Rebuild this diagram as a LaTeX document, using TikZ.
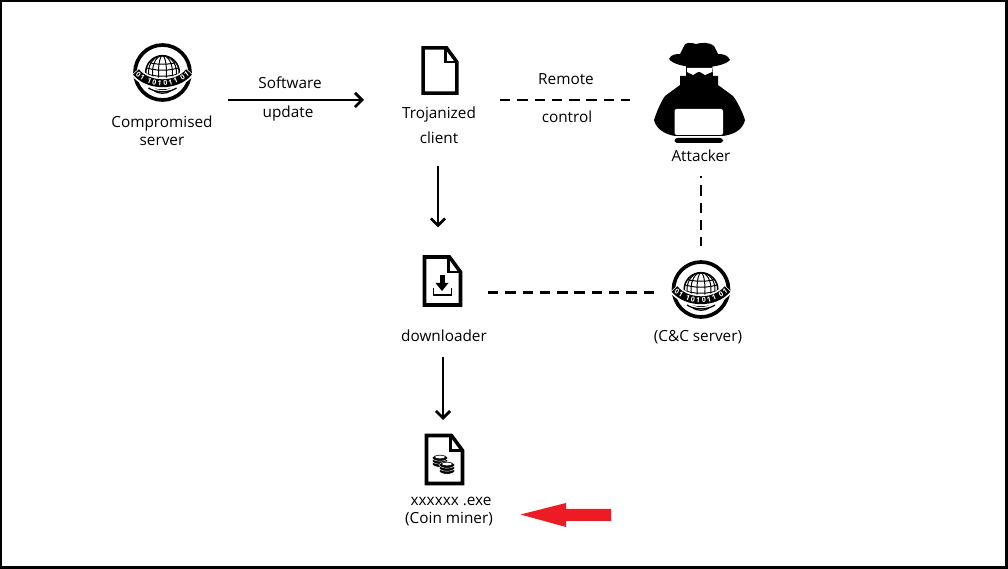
\documentclass[tikz,border=0pt]{standalone}
\usepackage{fontspec}
\setmainfont{Open Sans}
\usetikzlibrary{positioning,arrows.meta}
\definecolor{markred}{HTML}{ED1C24}
\tikzset{
    hub/.style 2 args={minimum width=#1*0.025cm,minimum height=#2*0.025cm,inner sep=0pt,outer sep=0pt},
    caption/.style={align=center,inner sep=0pt,font=\fontsize{10.9}{12.8}\selectfont},
    flow/.style={line width=1.5pt,-{Straight Barb[length=5pt,width=10pt,line width=2pt]}},
    remote/.style={line width=1.5pt,dash pattern=on 7.4pt off 4.9pt},
    globeicon/.pic={
        \draw[line width=2.6pt] (0,0) circle (27.5);
        \begin{scope}
            \clip (0,0) circle (17);
            \foreach \rx in {4,10,14} {
                \draw[line width=.7pt] (0,0) ellipse ({\rx} and 17);
            }
            \foreach \sy in {-12,-6,0} {
                \draw[line width=.7pt] (-20,\sy) .. controls (-8,\sy+5) and (8,\sy+5) .. (20,\sy);
            }
        \end{scope}
        \draw[line width=1.1pt] (0,0) circle (16.8);
        \draw[white,line width=8pt] (-27,-1) .. controls (-14,15) and (14,15) .. (27,-1);
        \draw[line width=5.6pt] (-26.5,-.5) .. controls (-14,14.5) and (14,14.5) .. (26.5,-.5);
        \draw[line width=.9pt] (-14,15.5) .. controls (-7,20.5) and (7,20.5) .. (14,15.5);
        \draw[line width=.9pt] (-8,18.5) .. controls (-4,21.5) and (4,21.5) .. (8,18.5);
        \foreach \dx/\ch in {-24/0,-20/1,-13/1,-8/0,-3/1,3/0,8/1,13/1,20/0,24/1} {
            \pgfmathsetmacro\dy{10.7-11*(\dx/27)*(\dx/27)}
            \pgfmathsetmacro\da{atan(.03*\dx)}
            \node[text=white,inner sep=0pt,rotate=\da,font=\fontsize{5}{5}\selectfont\bfseries] at (\dx,\dy) {\ch};
        }
    },
    fileicon/.pic={
        \draw[line width=2.5pt,fill=white,line join=miter] (-18,-24) -- (7,-24) -- (18,-9) -- (18,24) -- (-18,24) -- cycle;
        \draw[line width=1.8pt] (6,-24) -- (6,-9) -- (18,-9);
    },
    coinstack/.pic={
        \foreach \cy in {6,3,0} {
            \draw[fill=black,draw=white,line width=.3pt] (0,\cy) ellipse (7.5 and 3.2);
        }
        \draw[fill=white,draw=black,line width=.3pt] (0,-1) ellipse (5.5 and 1.8);
    },
    attackericon/.pic={
        \fill (-45,27) .. controls (-40,12) and (-36,6) .. (-34,3) -- (-19,-8) -- (-19,-17) -- (-13,-17) -- (-13,-30)
            -- (13,-30) -- (14,-17) -- (19,-17) -- (19,-8) -- (34,3) .. controls (38,8) and (43,18) .. (46,27)
            .. controls (44,35) and (38,41) .. (24,43) -- (-24,43) .. controls (-36,41) and (-43,35) .. (-45,27) -- cycle;
        \fill (-30,-34) .. controls (-28,-39) and (-22,-39) .. (-19,-39) -- (-15,-47) .. controls (-14,-51) and (-8,-50.5) .. (-3,-49)
            .. controls (2,-50.5) and (11,-51) .. (15,-47) -- (19,-39) .. controls (24,-39) and (29,-38) .. (31,-33)
            .. controls (22,-23) and (-22,-23) .. (-30,-34) -- cycle;
        \fill[white] (-12,-25) -- (13,-25) -- (13,-21) -- (6,-18) -- (1,-21) -- (-1,-21) -- (-6,-18) -- (-12,-21) -- cycle;
        \fill[white,rounded corners=1.5pt] (-24.5,16) rectangle (24,42);
        \fill[rounded corners=2pt] (-24.5,45) rectangle (24,50);
    }
}
\begin{document}
\begin{tikzpicture}[x=0.025cm,y=-0.025cm]
    \useasboundingbox (0,0) rectangle (1008,569);
    \fill[white] (0,0) rectangle (1008,569);
    \draw[line width=2.1pt] (1,1) rectangle (1006.5,567.5);

    \node[hub={132}{120}] (server) at (162,100) {};
    \node[hub={136}{132}] (client) at (432,100) {};
    \node[hub={142}{152}] (attacker) at (701,100) {};
    \node[hub={100}{130}] (downloader) at (438,292.5) {};
    \node[hub={92}{93}] (candc) at (701,292.5) {};
    \node[hub={90}{20}] (miner) at (443,430) {};

    \pic at (162.5,72.5) {globeicon};
    \pic at (701,289.5) {globeicon};
    \pic[scale=.94] at (440,70.5) {fileicon};
    \pic at (442.5,281) {fileicon};
    \pic at (444.5,459.5) {fileicon};
    \pic at (699,93) {attackericon};

    \fill (439.5,275) rectangle (444.5,284);
    \fill (435.5,283) -- (448.5,283) -- (442,291) -- cycle;
    \draw[line width=1.4pt] (433.5,288) -- (433.5,295) -- (451.5,295) -- (451.5,288);
    \pic at (440,458) {coinstack};
    \pic at (447,465) {coinstack};

    \node[caption] (servertext) at (162,131) {Compromised\\server};
    \node[caption] (softwaretext) at (290,83) {Software};
    \node[caption] (updatetext) at (288,114) {update};
    \node[caption] (clienttext) at (439,125) {Trojanized\\[5pt]client};
    \node[caption] (remotetext) at (566,79) {Remote};
    \node[caption] (controltext) at (567,117) {control};
    \node[caption] (attackertext) at (701,156) {Attacker};
    \node[caption] (downloadertext) at (444,336) {downloader};
    \node[caption] (candctext) at (698,337) {(C\&C server)};
    \node[caption] (minertext) at (449,512) {\hspace{3pt}xxxxxx .exe\\(Coin miner)};

    \draw[flow] (server.east) -- (client.west);
    \draw[remote] (client.east) -- (attacker.west);
    \draw[flow] (client.south -| downloader.north) -- (downloader.north);
    \draw[remote] (downloader.east) -- (candc.west);
    \draw[remote,dash phase=5.7pt] (attacker.south) -- (candc.north);
    \draw[flow] (downloader.south -| miner.north) -- (miner.north);

    \fill[markred] (520.5,514.5) -- (566,503) -- (566,509) -- (611,509) -- (611,521) -- (566,521) -- (566,527) -- cycle;
\end{tikzpicture}
\end{document}
